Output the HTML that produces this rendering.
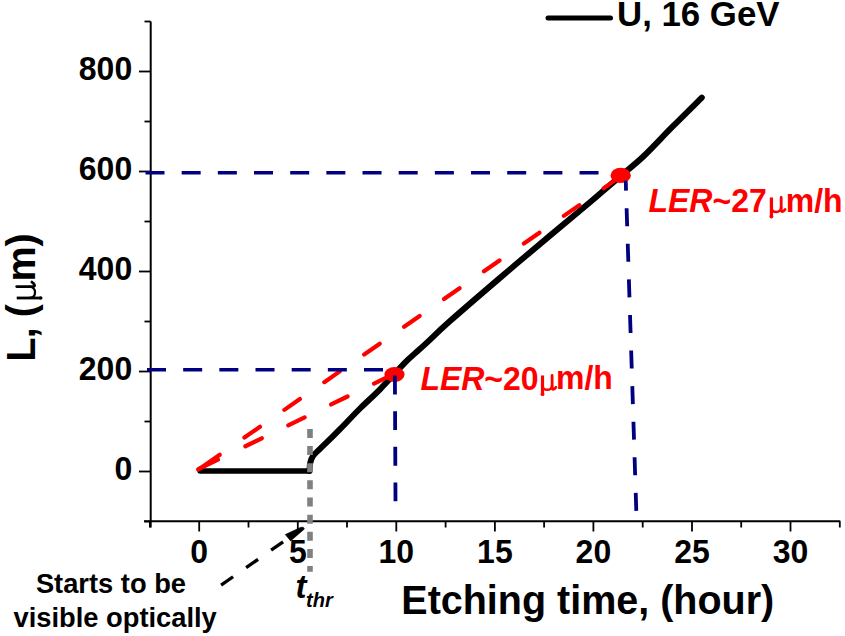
<!DOCTYPE html>
<html><head><meta charset="utf-8"><style>
html,body{margin:0;padding:0;background:#fff;}
svg{display:block;}
text{font-family:"Liberation Sans",sans-serif;font-weight:bold;}
.tk{font-size:32px;}
.lg{font-size:34.8px;}
.ler{fill:#ff0000;}
.ax{font-size:39.5px;}
.an{font-size:27.3px;}
.tt{font-size:33px;font-style:italic;}
.sub{font-size:20px;font-style:italic;}
</style></head><body>
<svg width="845" height="636" viewBox="0 0 845 636">
<line x1="150.7" y1="21.5" x2="150.7" y2="527.5" stroke="#000" stroke-width="2"/>
<line x1="144" y1="521.3" x2="840.3" y2="521.3" stroke="#000" stroke-width="2"/>
<line x1="144.5" y1="521.5" x2="150.7" y2="521.5" stroke="#000" stroke-width="1.8"/>
<line x1="139" y1="471.5" x2="150.7" y2="471.5" stroke="#000" stroke-width="1.8"/>
<line x1="144.5" y1="421.5" x2="150.7" y2="421.5" stroke="#000" stroke-width="1.8"/>
<line x1="139" y1="371.5" x2="150.7" y2="371.5" stroke="#000" stroke-width="1.8"/>
<line x1="144.5" y1="321.5" x2="150.7" y2="321.5" stroke="#000" stroke-width="1.8"/>
<line x1="139" y1="271.5" x2="150.7" y2="271.5" stroke="#000" stroke-width="1.8"/>
<line x1="144.5" y1="221.5" x2="150.7" y2="221.5" stroke="#000" stroke-width="1.8"/>
<line x1="139" y1="171.5" x2="150.7" y2="171.5" stroke="#000" stroke-width="1.8"/>
<line x1="144.5" y1="121.5" x2="150.7" y2="121.5" stroke="#000" stroke-width="1.8"/>
<line x1="139" y1="71.5" x2="150.7" y2="71.5" stroke="#000" stroke-width="1.8"/>
<line x1="144.5" y1="21.5" x2="150.7" y2="21.5" stroke="#000" stroke-width="1.8"/>
<line x1="149.9" y1="521.3" x2="149.9" y2="527.5" stroke="#000" stroke-width="1.8"/>
<line x1="199.2" y1="521.3" x2="199.2" y2="531.5" stroke="#000" stroke-width="1.8"/>
<line x1="248.5" y1="521.3" x2="248.5" y2="527.5" stroke="#000" stroke-width="1.8"/>
<line x1="297.8" y1="521.3" x2="297.8" y2="531.5" stroke="#000" stroke-width="1.8"/>
<line x1="347.0" y1="521.3" x2="347.0" y2="527.5" stroke="#000" stroke-width="1.8"/>
<line x1="396.3" y1="521.3" x2="396.3" y2="531.5" stroke="#000" stroke-width="1.8"/>
<line x1="445.6" y1="521.3" x2="445.6" y2="527.5" stroke="#000" stroke-width="1.8"/>
<line x1="494.9" y1="521.3" x2="494.9" y2="531.5" stroke="#000" stroke-width="1.8"/>
<line x1="544.1" y1="521.3" x2="544.1" y2="527.5" stroke="#000" stroke-width="1.8"/>
<line x1="593.4" y1="521.3" x2="593.4" y2="531.5" stroke="#000" stroke-width="1.8"/>
<line x1="642.7" y1="521.3" x2="642.7" y2="527.5" stroke="#000" stroke-width="1.8"/>
<line x1="692.0" y1="521.3" x2="692.0" y2="531.5" stroke="#000" stroke-width="1.8"/>
<line x1="741.2" y1="521.3" x2="741.2" y2="527.5" stroke="#000" stroke-width="1.8"/>
<line x1="790.5" y1="521.3" x2="790.5" y2="531.5" stroke="#000" stroke-width="1.8"/>
<line x1="839.8" y1="521.3" x2="839.8" y2="527.5" stroke="#000" stroke-width="1.8"/>
<text transform="translate(132.2,479.7) scale(1,1.045)" text-anchor="end" class="tk">0</text>
<text transform="translate(132.2,379.7) scale(1,1.045)" text-anchor="end" class="tk">200</text>
<text transform="translate(132.2,279.7) scale(1,1.045)" text-anchor="end" class="tk">400</text>
<text transform="translate(132.2,179.7) scale(1,1.045)" text-anchor="end" class="tk">600</text>
<text transform="translate(132.2,79.7) scale(1,1.045)" text-anchor="end" class="tk">800</text>
<text transform="translate(199.2,563.1) scale(1,1.045)" text-anchor="middle" class="tk">0</text>
<text transform="translate(297.8,563.1) scale(1,1.045)" text-anchor="middle" class="tk">5</text>
<text transform="translate(396.3,563.1) scale(1,1.045)" text-anchor="middle" class="tk">10</text>
<text transform="translate(494.9,563.1) scale(1,1.045)" text-anchor="middle" class="tk">15</text>
<text transform="translate(593.4,563.1) scale(1,1.045)" text-anchor="middle" class="tk">20</text>
<text transform="translate(692.0,563.1) scale(1,1.045)" text-anchor="middle" class="tk">25</text>
<text transform="translate(790.5,563.1) scale(1,1.045)" text-anchor="middle" class="tk">30</text>
<line x1="200.2" y1="471" x2="309.5" y2="471" stroke="#000" stroke-width="5.6" stroke-linecap="round"/>
<path fill="none" stroke="#000" stroke-width="6" stroke-linejoin="round" stroke-linecap="round" d="M309.5,471 C309.62,469.67 309.62,465.50 310.2,463 C310.78,460.50 311.37,458.37 313,456 C314.63,453.63 317.17,451.60 320,448.8 C322.83,446.00 326.67,442.47 330,439.2 C333.33,435.93 335.00,434.32 340,429.2 C345.00,424.08 353.33,415.15 360,408.5 C366.67,401.85 372.50,396.95 380,389.3 C387.50,381.65 399.17,368.58 405,362.6 C410.83,356.62 411.67,356.43 415,353.4 C418.33,350.37 419.17,349.78 425,344.4 C430.83,339.02 437.50,332.18 450,321.1 C462.50,310.02 483.33,292.15 500,277.9 C516.67,263.65 535.00,248.22 550,235.6 C565.00,222.98 578.17,212.20 590,202.2 C601.83,192.20 612.12,183.22 621,175.6 C629.88,167.98 634.80,164.57 643.3,156.5 C651.80,148.43 662.25,137.02 672,127.2 C681.75,117.38 696.83,102.53 701.8,97.6"/>
<g stroke="#ff0000" stroke-width="4.2" fill="none" stroke-linecap="round">
<line x1="198.3" y1="469.6" x2="219.77" y2="454.69"/><line x1="244.43" y1="437.58" x2="620.7" y2="176.4" stroke-dasharray="18.9 29.70"/>
<line x1="198.3" y1="469.2" x2="218.01" y2="459.60"/><line x1="245.39" y1="446.26" x2="394.5" y2="373.6" stroke-dasharray="18.2 29.50"/>
</g>
<ellipse cx="394.5" cy="374.5" rx="10.1" ry="7.6" fill="#ff0000"/>
<ellipse cx="620.7" cy="175.4" rx="10.2" ry="7.7" fill="#ff0000"/>
<g stroke="#000080" stroke-width="3.4" fill="none" stroke-dasharray="19 17.17">
<line x1="145.5" y1="172.8" x2="612" y2="172.8"/>
<line x1="147" y1="369.8" x2="383" y2="369.8"/>
</g>
<g stroke="#000080" stroke-width="3.8" fill="none">
<line x1="394.9" y1="375.6" x2="395.5" y2="501.2" stroke-dasharray="18.9 16.7"/>
<line x1="625.75" y1="180.7" x2="626.05" y2="190.6"/>
<line x1="626.6" y1="208.2" x2="636.3" y2="511" stroke-dasharray="18 17.6"/>
</g>
<line x1="310" y1="428.9" x2="310" y2="571.7" stroke="#808080" stroke-width="5.6" stroke-dasharray="9 8.15"/>
<line x1="548" y1="17.9" x2="610.5" y2="17.9" stroke="#000" stroke-width="5" stroke-linecap="round"/>
<text transform="translate(617,26.1) scale(1,1.01)" class="lg">U, 16 GeV</text>
<text transform="translate(648.5,211.8) scale(1,1.04)" class="ler" font-size="32"><tspan font-style="italic">LER</tspan>~27</text>
<g transform="translate(769.8,211.6) scale(32.5)" fill="none" stroke="#ff0000"><path d="M0.05,-0.435 V0.14" stroke-width="0.1"/><circle cx="0.05" cy="0.15" r="0.06" fill="#ff0000" stroke="none"/><path d="M0.05,-0.16 C0.05,-0.01 0.12000000000000001,0.01 0.2,0.01 C0.27999999999999997,0.01 0.35,-0.04 0.35,-0.14" stroke-width="0.075"/><path d="M0.35,-0.435 V-0.06 C0.35,0.02 0.41,0.02 0.47,-0.065" stroke-width="0.08700000000000001" stroke-linecap="round"/></g>
<text transform="translate(785.8,211.6) scale(1,1.04)" class="ler" font-size="32">m/h</text>
<text transform="translate(420.4,389.6) scale(1,1.04)" class="ler" font-size="32"><tspan font-style="italic">LER</tspan>~20</text>
<g transform="translate(540.9,389.4) scale(32)" fill="none" stroke="#ff0000"><path d="M0.05,-0.435 V0.14" stroke-width="0.1"/><circle cx="0.05" cy="0.15" r="0.06" fill="#ff0000" stroke="none"/><path d="M0.05,-0.16 C0.05,-0.01 0.12000000000000001,0.01 0.2,0.01 C0.27999999999999997,0.01 0.35,-0.04 0.35,-0.14" stroke-width="0.075"/><path d="M0.35,-0.435 V-0.06 C0.35,0.02 0.41,0.02 0.47,-0.065" stroke-width="0.08700000000000001" stroke-linecap="round"/></g>
<text transform="translate(556,389.4) scale(1,1.04)" class="ler" font-size="32">m/h</text>
<text transform="translate(401.3,613.8) scale(1,1.04)" class="ax" font-size="39.2">Etching time, (hour)</text>
<g transform="translate(34.6,361.7) rotate(-90) scale(1,1.04)">
<text x="0" y="0" class="ax" textLength="57.6" lengthAdjust="spacing">L, (</text>
<g transform="translate(62.3,0) scale(39.5)" fill="none" stroke="#000"><path d="M0.0355,-0.435 V0.14" stroke-width="0.071"/><circle cx="0.0355" cy="0.15" r="0.04259999999999999" fill="#000" stroke="none"/><path d="M0.0355,-0.16 C0.0355,-0.01 0.10550000000000001,0.01 0.18,0.01 C0.25449999999999995,0.01 0.32449999999999996,-0.04 0.32449999999999996,-0.14" stroke-width="0.055"/><path d="M0.32449999999999996,-0.435 V-0.06 C0.32449999999999996,0.02 0.378,0.02 0.438,-0.065" stroke-width="0.071" stroke-linecap="round"/></g>
<text x="80.2" y="0" class="ax">m)</text>
</g>
<text x="35.9" y="592.6" class="an">Starts to be</text>
<text x="13.5" y="626.5" class="an">visible optically</text>
<line x1="221.1" y1="585.1" x2="287" y2="539.1" stroke="#000" stroke-width="3.3" stroke-dasharray="14.6 15.9"/>
<polygon points="300.8,527.3 303.3,527.3 304.4,529.0 290.6,540.9 285.3,534.6" fill="#000" stroke="#000" stroke-width="0.6" stroke-linejoin="round"/>
<text x="295.5" y="598" class="tt">t</text>
<text x="306" y="606.5" class="sub">thr</text>
</svg>
</body></html>
